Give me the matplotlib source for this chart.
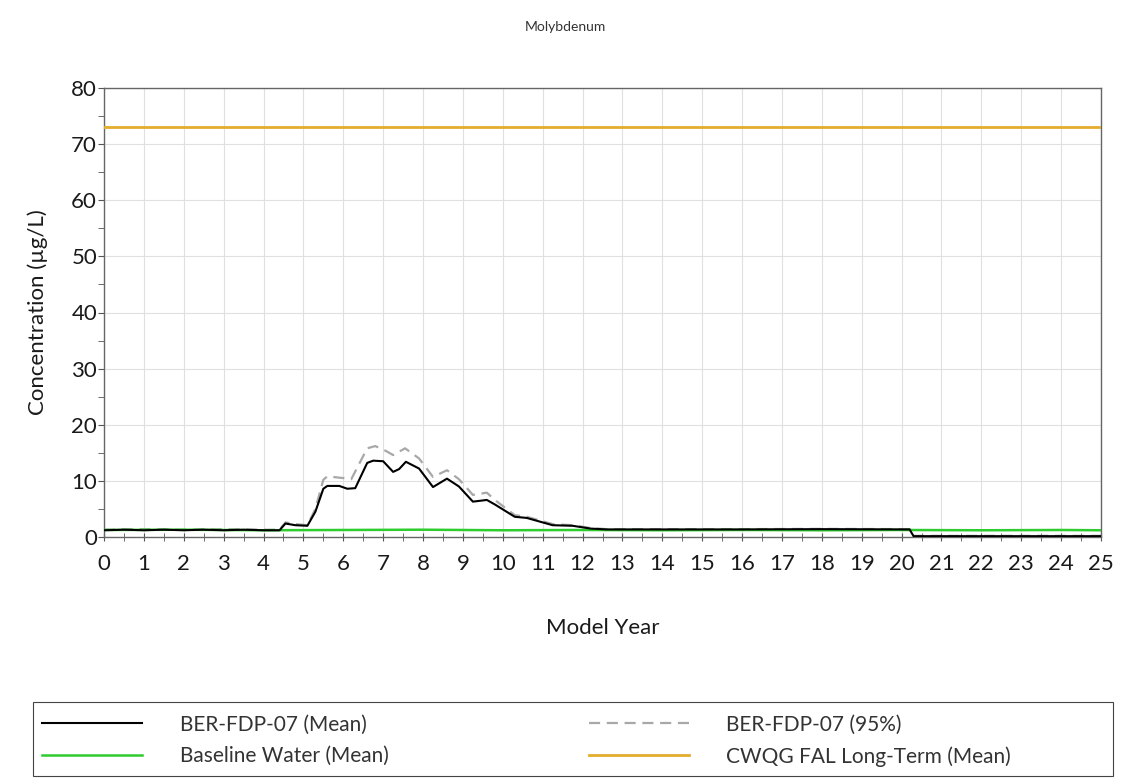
import numpy as np
import matplotlib.pyplot as plt
from matplotlib.ticker import MultipleLocator
from matplotlib.patches import Rectangle

plt.rcParams['font.family'] = ['Lato', 'DejaVu Sans']

# BER-FDP-07 mean concentration (ug/L)
mean_year = [0, 0.5, 1, 1.5, 2, 2.5, 3, 3.5, 4, 4.4, 4.55, 4.8, 5.1, 5.3, 5.5, 5.6, 5.9,
             6.1, 6.3, 6.6, 6.75, 7.0, 7.25, 7.4, 7.57, 7.9, 8.25, 8.6, 8.9, 9.25, 9.6,
             9.8, 10.3, 10.6, 11.25, 11.75, 12.2, 12.6, 14, 16, 18, 20.2, 20.3, 25]
mean_conc = [1.2, 1.3, 1.2, 1.3, 1.2, 1.3, 1.2, 1.3, 1.2, 1.2, 2.4, 2.1, 2.0, 4.5, 8.6, 9.1, 9.1,
             8.6, 8.7, 13.2, 13.6, 13.5, 11.6, 12.1, 13.4, 12.2, 8.9, 10.4, 9.0, 6.3, 6.6,
             5.8, 3.6, 3.4, 2.1, 2.0, 1.5, 1.35, 1.35, 1.35, 1.4, 1.35, 0.15, 0.15]

# BER-FDP-07 95th percentile
p95_year = [0, 1, 2, 3, 4, 4.4, 4.55, 4.8, 5.1, 5.3, 5.5, 5.6, 6.0, 6.2, 6.6, 6.8, 7.0,
            7.25, 7.55, 7.9, 8.25, 8.6, 8.9, 9.25, 9.6, 9.8, 10.3, 10.6, 11.25, 11.75,
            12.2, 12.6, 14, 16, 18, 20.2, 20.3, 25]
p95_conc = [1.3, 1.4, 1.3, 1.4, 1.3, 1.3, 2.6, 2.3, 2.1, 5.0, 10.2, 10.8, 10.5, 10.3, 15.8, 16.2, 15.6,
            14.6, 15.8, 14.0, 10.7, 11.9, 10.3, 7.5, 7.9, 6.6, 3.9, 3.6, 2.3, 2.1,
            1.6, 1.4, 1.4, 1.4, 1.45, 1.4, 0.2, 0.2]

# Baseline water mean
base_year = [0, 2, 4, 6, 8, 10, 12, 14, 16, 18, 20, 22, 24, 25]
base_conc = [1.25, 1.3, 1.2, 1.25, 1.3, 1.2, 1.25, 1.2, 1.25, 1.2, 1.25, 1.2, 1.25, 1.2]

# CWQG FAL long-term guideline
cwqg = 73

fig = plt.figure(figsize=(11.3, 7.78), dpi=100)
ax = fig.add_axes([104/1130, 1-537/778, (1101-104)/1130, (537-88)/778])

l_base, = ax.plot(base_year, base_conc, color='#2ecc2e', lw=1.8, zorder=3)
l_p95, = ax.plot(p95_year, p95_conc, color='#a8a8a8', lw=1.6, ls=(0, (5, 3)), zorder=2)
l_mean, = ax.plot(mean_year, mean_conc, color='black', lw=1.5, zorder=4)
l_cwqg = ax.axhline(cwqg, color='#e3ad2e', lw=2, zorder=3)

ax.set_xlim(0, 25)
ax.set_ylim(0, 80)
ax.xaxis.set_major_locator(MultipleLocator(1))
ax.xaxis.set_minor_locator(MultipleLocator(0.5))
ax.yaxis.set_major_locator(MultipleLocator(10))
ax.yaxis.set_minor_locator(MultipleLocator(5))
ax.grid(True, which='major', color='#e0e0e0', lw=0.8)
ax.set_axisbelow(True)
ax.tick_params(axis='x', which='both', direction='inout', length=6, color='#555555',
               labelsize=16, pad=9, labelcolor='#1a1a1a')
ax.tick_params(axis='y', which='both', direction='out', length=4, color='#555555',
               labelsize=16, pad=1, labelcolor='#1a1a1a')
for s in ax.spines.values():
    s.set_color('#666666')
    s.set_linewidth(1)

ax.set_xlabel('Model Year', fontsize=16, labelpad=32, color='#1a1a1a')
ax.set_ylabel('Concentration (µg/L)', fontsize=16, labelpad=17, color='#1a1a1a')
fig.text(0.5, 1-27/778, 'Molybdenum', ha='center', va='center', fontsize=10, color='#333333')

leg = fig.legend([l_mean, l_base, l_p95, l_cwqg],
                 ['BER-FDP-07 (Mean)', 'Baseline Water (Mean)',
                  'BER-FDP-07 (95%)', 'CWQG FAL Long-Term (Mean)'],
                 ncol=2, loc='lower left', bbox_to_anchor=(33/1130, 2/778),
                 fontsize=15, handlelength=4.8, handletextpad=1.8, columnspacing=9.6,
                 frameon=False, borderpad=0.45, borderaxespad=0, labelspacing=0.55)
for t in leg.get_texts():
    t.set_color('#333333')

# legend frame spans the full width as in the original
fig.patches.append(Rectangle((33/1130, 2/778), 1080/1130, 74/778, transform=fig.transFigure,
                             fill=False, edgecolor='#444444', lw=0.8))

fig.savefig('out.png', dpi=100)
